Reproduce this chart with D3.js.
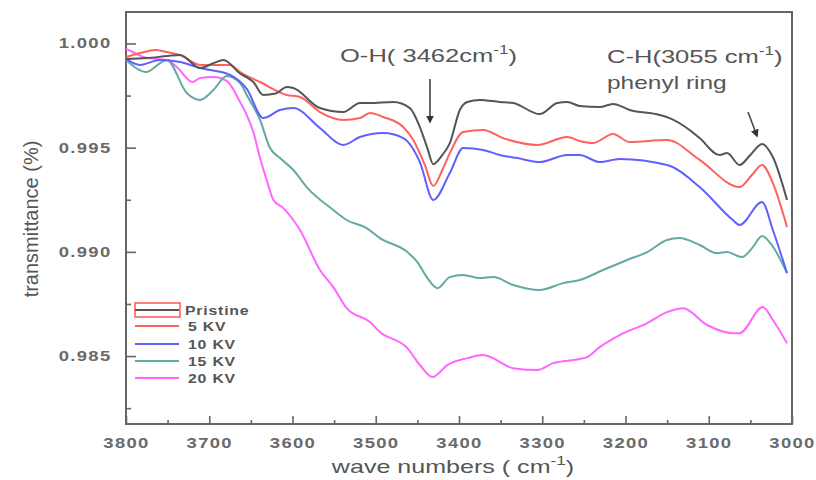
<!DOCTYPE html>
<html>
<head>
<meta charset="utf-8">
<script src="https://cdn.jsdelivr.net/npm/d3@7"></script>
<style>
  body { margin: 0; background: #fff; }
  svg { font-family: Arial, "Liberation Sans", sans-serif; }
</style>
</head>
<body>
<div id="chart"></div>
<script>
var svgWidth = 816;
var svgHeight = 480;

// data: [wave number, transmittance]
var pristine = [[3800, 0.99926], [3775, 0.99930], [3750, 0.99940], [3735, 0.99945], [3711, 0.99882],
  [3695, 0.99905], [3683, 0.99921], [3663, 0.99856], [3647, 0.99815], [3635, 0.99753], [3620, 0.99760],
  [3607, 0.99791], [3599, 0.99786], [3567, 0.99690], [3539, 0.99671], [3519, 0.99714], [3507, 0.99714],
  [3479, 0.99719], [3459, 0.99690], [3447, 0.99599], [3438, 0.99498], [3431, 0.99421], [3420, 0.99465],
  [3411, 0.99522], [3399, 0.99681], [3390, 0.99719], [3375, 0.99729], [3351, 0.99719], [3335, 0.99714],
  [3303, 0.99661], [3282, 0.99714], [3270, 0.99719], [3255, 0.99700], [3231, 0.99695], [3215, 0.99710],
  [3195, 0.99681], [3159, 0.99657], [3147, 0.99642], [3123, 0.99585], [3111, 0.99546], [3087, 0.99465],
  [3078, 0.99474], [3063, 0.99417], [3050, 0.99465], [3036, 0.99518], [3023, 0.99455], [3006, 0.99249]];

var kv5 = [[3800, 0.99935], [3783, 0.99954], [3765, 0.99969], [3751, 0.99959], [3735, 0.99945],
  [3711, 0.99897], [3675, 0.99897], [3663, 0.99863], [3639, 0.99815], [3607, 0.99753], [3591, 0.99743],
  [3567, 0.99671], [3539, 0.99633], [3519, 0.99642], [3507, 0.99666], [3491, 0.99647], [3467, 0.99599],
  [3455, 0.99537], [3441, 0.99417], [3431, 0.99316], [3420, 0.99393], [3411, 0.99474], [3395, 0.99575],
  [3371, 0.99585], [3347, 0.99546], [3306, 0.99513], [3270, 0.99551], [3255, 0.99532], [3239, 0.99522],
  [3215, 0.99566], [3195, 0.99527], [3150, 0.99537], [3111, 0.99441], [3063, 0.99311], [3048, 0.99370],
  [3036, 0.99417], [3023, 0.99330], [3006, 0.99119]];

var kv10 = [[3800, 0.99926], [3783, 0.99897], [3759, 0.99921], [3735, 0.99911], [3711, 0.99882],
  [3675, 0.99849], [3655, 0.99782], [3635, 0.99642], [3615, 0.99681], [3599, 0.99690], [3567, 0.99594],
  [3539, 0.99513], [3519, 0.99551], [3491, 0.99570], [3467, 0.99546], [3447, 0.99431], [3431, 0.99249],
  [3411, 0.99378], [3395, 0.99498], [3371, 0.99489], [3351, 0.99465], [3330, 0.99450], [3303, 0.99431],
  [3270, 0.99465], [3255, 0.99465], [3231, 0.99431], [3207, 0.99446], [3150, 0.99417], [3111, 0.99311],
  [3071, 0.99153], [3063, 0.99129], [3036, 0.99239], [3023, 0.99105], [3006, 0.98898]];

var kv15 = [[3800, 0.99921], [3775, 0.99863], [3759, 0.99906], [3751, 0.99921], [3727, 0.99762],
  [3711, 0.99729], [3695, 0.99777], [3679, 0.99844], [3663, 0.99810], [3655, 0.99753], [3639, 0.99633],
  [3627, 0.99498], [3615, 0.99450], [3599, 0.99393], [3583, 0.99311], [3551, 0.99201], [3535, 0.99153],
  [3511, 0.99114], [3495, 0.99066], [3462, 0.98999], [3450, 0.98951], [3438, 0.98874], [3426, 0.98826],
  [3411, 0.98879], [3395, 0.98889], [3375, 0.98874], [3359, 0.98879], [3335, 0.98841], [3303, 0.98817],
  [3275, 0.98850], [3255, 0.98865], [3227, 0.98913], [3198, 0.98961], [3174, 0.98999], [3150, 0.99057],
  [3135, 0.99066], [3111, 0.99033], [3090, 0.98994], [3078, 0.98999], [3060, 0.98975], [3047, 0.99023],
  [3036, 0.99076], [3026, 0.99042], [3006, 0.98898]];

var kv20 = [[3800, 0.99974], [3792, 0.99959], [3775, 0.99930], [3751, 0.99921], [3739, 0.99887],
  [3720, 0.99815], [3711, 0.99834], [3695, 0.99839], [3679, 0.99820], [3663, 0.99719], [3655, 0.99657],
  [3647, 0.99575], [3639, 0.99450], [3631, 0.99345], [3623, 0.99249], [3611, 0.99210], [3591, 0.99105],
  [3567, 0.98913], [3551, 0.98831], [3535, 0.98730], [3507, 0.98663], [3495, 0.98615], [3462, 0.98538],
  [3447, 0.98457], [3432, 0.98399], [3414, 0.98457], [3390, 0.98490], [3371, 0.98505], [3335, 0.98442],
  [3306, 0.98433], [3287, 0.98466], [3255, 0.98486], [3246, 0.98495], [3231, 0.98543], [3207, 0.98601],
  [3174, 0.98658], [3150, 0.98711], [3131, 0.98730], [3102, 0.98649], [3071, 0.98610], [3063, 0.98610],
  [3035, 0.98735], [3023, 0.98673], [3006, 0.98562]];

var seriesNames = ["Pristine", "5 KV", "10 KV", "15 KV", "20 KV"];
var seriesData = [pristine, kv5, kv10, kv15, kv20];
var seriesColors = ["#555555", "#ff6060", "#6060ff", "#62aaa4", "#ff66ff"];

var xMajorTicks = [3800, 3700, 3600, 3500, 3400, 3300, 3200, 3100, 3000];
var xMinorTicks = [3750, 3650, 3550, 3450, 3350, 3250, 3150, 3050];
var yMajorTicks = [0.985, 0.990, 0.995, 1.000];
var yMinorTicks = [0.9825, 0.9875, 0.9925, 0.9975];

var margin = { top: 12, right: 24, bottom: 56, left: 126 };
var width = svgWidth - margin.left - margin.right;
var height = svgHeight - margin.top - margin.bottom;

// the source picture is stretched sideways, so text is widened too
var stretch = 1.32;

var svg = d3.select("#chart")
  .append("svg")
  .attr("width", svgWidth)
  .attr("height", svgHeight);

var chartGroup = svg.append("g")
  .attr("transform", `translate(${margin.left}, ${margin.top})`);

var xScale = d3.scaleLinear()
  .domain([3800, 3000])
  .range([0, width]);

var yScale = d3.scaleLinear()
  .domain([0.98174, 1.00151])
  .range([height, 0]);

// frame
chartGroup.append("rect")
  .attr("width", width)
  .attr("height", height)
  .attr("fill", "none")
  .attr("stroke", "#666")
  .attr("stroke-width", 2);

// axes with inward ticks
var bottomAxis = d3.axisBottom(xScale).tickValues(xMajorTicks).tickSize(-8).tickPadding(14).tickFormat(d3.format("d"));
var bottomMinor = d3.axisBottom(xScale).tickValues(xMinorTicks).tickSize(-4).tickFormat("");
var leftAxis = d3.axisLeft(yScale).tickValues(yMajorTicks).tickSize(-10).tickPadding(11).tickFormat(d3.format(".3f"));
var leftMinor = d3.axisLeft(yScale).tickValues(yMinorTicks).tickSize(-5).tickFormat("");

[[bottomAxis, true], [bottomMinor, true], [leftAxis, false], [leftMinor, false]].forEach(function(a) {
  var g = chartGroup.append("g")
    .attr("class", "axis")
    .attr("transform", a[1] ? `translate(0, ${height})` : null)
    .call(a[0]);
  g.select(".domain").remove();
  g.selectAll(".tick line").attr("stroke", "#666").attr("stroke-width", 1.6);
  g.selectAll(".tick text")
    .attr("fill", "#6a6a6a")
    .attr("font-size", "14px")
    .attr("font-weight", "bold")
    .attr("letter-spacing", "1px")
    .attr("transform", `scale(${stretch}, 1)`);
});

// spectra
var line = d3.line()
  .x(d => xScale(d[0]))
  .y(d => yScale(d[1]))
  .curve(d3.curveMonotoneX);

chartGroup.append("g")
  .selectAll("path")
  .data(seriesData.slice().reverse())
  .enter()
  .append("path")
  .attr("d", line)
  .attr("fill", "none")
  .attr("stroke", (d, i) => seriesColors[seriesColors.length - 1 - i])
  .attr("stroke-width", 2)
  .attr("stroke-linejoin", "round");

// annotations
function wideText(x, y, size, sx) {
  return svg.append("text")
    .attr("transform", `translate(${x}, ${y}) scale(${sx}, 1)`)
    .attr("fill", "#555")
    .attr("font-size", size + "px");
}
function supLabel(x, y, main) {
  var t = wideText(x, y, 18, 1.42);
  t.append("tspan").text(main);
  t.append("tspan").attr("dy", -8).attr("font-size", "12px").text("-1");
  t.append("tspan").attr("dy", 8).text(")");
}
supLabel(340, 62, "O-H( 3462cm");
supLabel(607, 63, "C-H(3055 cm");
wideText(607, 89, 18, 1.36).text("phenyl ring");

svg.append("defs").append("marker")
  .attr("id", "arrowhead")
  .attr("viewBox", "0 0 10 10")
  .attr("refX", 8)
  .attr("refY", 5)
  .attr("markerWidth", 5)
  .attr("markerHeight", 5)
  .attr("orient", "auto")
  .append("path")
  .attr("d", "M0,0 L10,5 L0,10 z")
  .attr("fill", "#333");

svg.append("line")
  .attr("x1", 430).attr("y1", 79)
  .attr("x2", 430).attr("y2", 122)
  .attr("stroke", "#444").attr("stroke-width", 1.6)
  .attr("marker-end", "url(#arrowhead)");

svg.append("line")
  .attr("x1", 748).attr("y1", 112)
  .attr("x2", 757).attr("y2", 136)
  .attr("stroke", "#444").attr("stroke-width", 1.6)
  .attr("marker-end", "url(#arrowhead)");

// legend
var legend = svg.append("g").attr("transform", "translate(135, 310)");
var legendRowY = [0, 16, 34, 51, 68];

legend.append("rect")
  .attr("x", 0).attr("y", -7)
  .attr("width", 45).attr("height", 14)
  .attr("fill", "none")
  .attr("stroke", "#ff6060")
  .attr("stroke-width", 1.6);

legend.selectAll("line")
  .data(seriesNames)
  .enter()
  .append("line")
  .attr("x1", 0).attr("x2", 44)
  .attr("y1", (d, i) => legendRowY[i])
  .attr("y2", (d, i) => legendRowY[i])
  .attr("stroke", (d, i) => seriesColors[i])
  .attr("stroke-width", 2);

legend.selectAll("text")
  .data(seriesNames)
  .enter()
  .append("text")
  .attr("transform", (d, i) => `translate(${i === 0 ? 50 : 53}, ${legendRowY[i] + 5}) scale(${stretch}, 1)`)
  .attr("fill", "#555")
  .attr("font-size", "12px")
  .attr("font-weight", "bold")
  .attr("letter-spacing", "0.6px")
  .text(d => d);

// axis titles
svg.append("text")
  .attr("transform", "translate(38, 219) rotate(-90)")
  .attr("text-anchor", "middle")
  .attr("fill", "#555")
  .attr("font-size", "20px")
  .text("transmittance (%)");

var xTitle = svg.append("text")
  .attr("transform", `translate(453, 473) scale(${stretch}, 1)`)
  .attr("text-anchor", "middle")
  .attr("fill", "#555")
  .attr("font-size", "19px");
xTitle.append("tspan").text("wave numbers ( cm");
xTitle.append("tspan").attr("dy", -8).attr("font-size", "13px").text("-1");
xTitle.append("tspan").attr("dy", 8).text(")");
</script>
</body>
</html>
